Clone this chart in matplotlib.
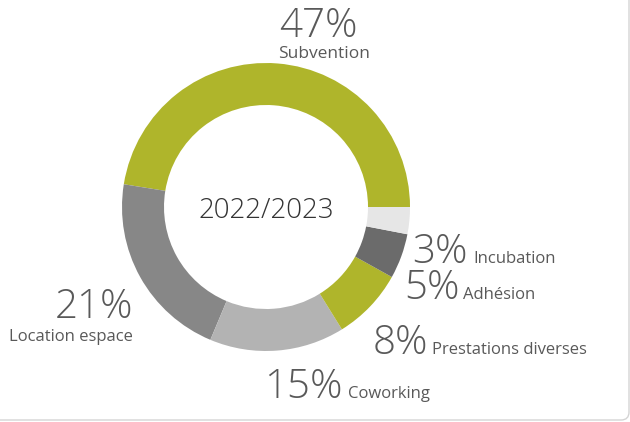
import matplotlib
matplotlib.use("Agg")
import matplotlib.pyplot as plt
from matplotlib.patches import FancyBboxPatch

# revenue split 2022/2023
categories = ["Subvention", "Location espace", "Coworking",
              "Prestations diverses", "Adhésion", "Incubation"]
shares = [47, 21, 15, 8, 5, 3]
colors = ["#afb52b", "#878787", "#b3b3b3", "#afb52b", "#6b6b6b", "#e6e6e6"]
center_label = "2022/2023"

W, H = 630, 422
plt.rcParams['font.family'] = ['Open Sans', 'DejaVu Sans']

fig = plt.figure(figsize=(W / 100, H / 100), dpi=100)
ax = fig.add_axes([0, 0, 1, 1])


def py(y):
    # pixel row (from top) -> data y
    return H - y


# faint card border on the right
card = FancyBboxPatch((-40, py(420)), 669, 500, boxstyle="round,pad=0,rounding_size=8",
                      facecolor='none', edgecolor='#d4d4d4', lw=1.0)
ax.add_patch(card)

ax.pie(shares, colors=colors, startangle=0, counterclock=True,
       center=(266, py(207)), radius=144, normalize=True,
       wedgeprops=dict(width=42, linewidth=0), frame=True)
ax.set_xlim(0, W)
ax.set_ylim(0, H)
ax.set_aspect('equal')
ax.axis('off')

pct_col = '#595959'
lab_col = '#595959'
pct_size = 29
lab_size = 12

ax.text(266, py(218), center_label, ha='center', va='baseline', fontsize=20,
        color='#333333', fontweight='light')

# Subvention on top
ax.text(318, py(37), f"{shares[0]}%", ha='center', va='baseline', fontsize=pct_size,
        color=pct_col, fontweight='light')
ax.text(324, py(58), categories[0], ha='center', va='baseline', fontsize=12.5,
        color=lab_col)

# Location espace on the left
ax.text(133, py(318), f"{shares[1]}%", ha='right', va='baseline', fontsize=pct_size,
        color=pct_col, fontweight='light')
ax.text(133, py(341), categories[1], ha='right', va='baseline', fontsize=lab_size,
        color=lab_col)

# the rest: value then label side by side
inline = [
    (2, 343, 348, 398),
    (3, 428, 432, 354),
    (4, 460, 463, 299),
    (5, 468, 473, 263),
]
for i, xr, xl, base in inline:
    ax.text(xr, py(base), f"{shares[i]}%", ha='right', va='baseline', fontsize=pct_size,
            color=pct_col, fontweight='light')
    ax.text(xl, py(base), categories[i], ha='left', va='baseline', fontsize=lab_size,
            color=lab_col)

fig.savefig("out.png", dpi=100, facecolor='white')
